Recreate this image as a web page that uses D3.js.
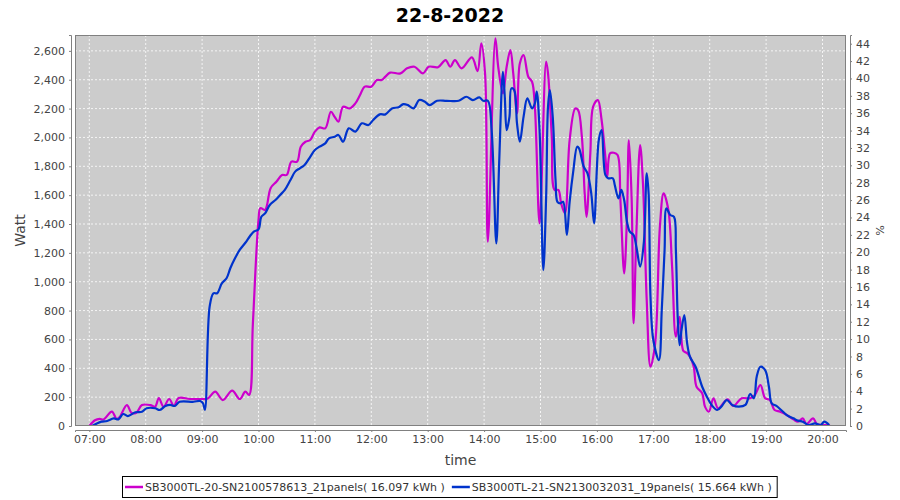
<!DOCTYPE html>
<html>
<head>
<meta charset="utf-8">
<script src="https://cdn.jsdelivr.net/npm/d3@7"></script>
<style>
body { margin: 0; background: #ffffff; }
svg text { font-family: "DejaVu Sans", sans-serif; }
</style>
</head>
<body>
<div id="vis"></div>
<script>
var width = 900
var height = 500

var chartTitle = "22-8-2022"
var seriesNames = ["SB3000TL-20-SN2100578613_21panels( 16.097 kWh )",
                   "SB3000TL-21-SN2130032031_19panels( 15.664 kWh )"]
var seriesColors = ["#cc00cc", "#0033cc"]

var wattTicks = [0,200,400,600,800,1000,1200,1400,1600,1800,2000,2200,2400,2600]
var pctTicks = [0,2,4,6,8,10,12,14,16,18,20,22,24,26,28,30,32,34,36,38,40,42,44]
var hourTicks = ["07:00","08:00","09:00","10:00","11:00","12:00","13:00",
                 "14:00","15:00","16:00","17:00","18:00","19:00","20:00"]

//SB3000TL-20 (magenta)
var magTimes = ["07:00","07:06","07:11","07:15","07:24","07:29","07:32","07:40","07:45","07:50",
  "07:56","08:05","08:10","08:14","08:19","08:25","08:30","08:35","08:47","09:00",
  "09:06","09:14","09:22","09:32","09:40","09:46","09:50","09:54","10:00","10:02",
  "10:07","10:09","10:13","10:19","10:25","10:30","10:35","10:41","10:45","10:50",
  "10:55","11:00","11:05","11:11","11:17","11:21","11:25","11:30","11:37","11:43",
  "11:48","11:53","12:00","12:06","12:11","12:15","12:20","12:31","12:38","12:46",
  "12:55","13:01","13:11","13:19","13:24","13:29","13:36","13:47","13:53","13:57",
  "14:01","14:04","14:12","14:15","14:20","14:24","14:28","14:31","14:35","14:38",
  "14:42","14:47","14:51","14:54","14:59","15:06","15:08","15:12","15:15","15:19",
  "15:22","15:26","15:31","15:37","15:40","15:44","15:47","15:49","15:53","15:56",
  "16:01","16:05","16:09","16:11","16:14","16:18","16:22","16:25","16:29","16:32",
  "16:34","16:37","16:39","16:42","16:46","16:49","16:53","16:57","17:02","17:07",
  "17:11","17:16","17:20","17:24","17:28","17:32","17:36","17:39","17:43","17:46",
  "17:52","17:55","17:59","18:04","18:09","18:19","18:25","18:34","18:43","18:48",
  "18:54","18:59","19:04","19:09","19:15","19:22","19:29","19:34","19:39","19:43",
  "19:50","19:54","19:59","20:04","20:08"]
var magWatts = [0,40,50,45,100,50,60,145,90,92,
  145,145,134,194,134,187,139,194,187,187,
  190,238,180,245,187,238,215,707,1427,1510,
  1497,1530,1650,1693,1740,1740,1832,1832,1936,1970,
  1982,2040,2070,2063,2178,2143,2109,2213,2201,2236,
  2294,2352,2352,2398,2398,2421,2449,2444,2479,2490,
  2444,2490,2487,2536,2490,2536,2479,2555,2460,2652,
  2444,1277,2687,2490,2306,2490,2606,2444,2167,2513,
  2571,2421,2386,2213,1405,2525,2444,2005,1636,1636,
  1543,1474,1982,2201,2190,2005,1612,1450,1890,2213,
  2259,2121,1866,1728,1890,1894,1878,1566,1058,1450,
  1982,1566,712,1337,1947,1682,873,411,573,1380,
  1612,1497,1104,619,757,520,505,480,411,272,
  227,134,99,192,123,185,139,192,192,215,
  284,192,180,111,99,76,46,30,53,14,
  53,14,7,7,5]

//SB3000TL-21 (blue)
var blueTimes = ["07:03","07:08","07:13","07:19","07:26","07:31","07:36","07:41","07:49","07:56",
  "08:01","08:10","08:15","08:21","08:26","08:31","08:36","08:51","08:58","09:01",
  "09:03","09:08","09:12","09:16","09:21","09:26","09:30","09:35","09:40","09:46",
  "09:51","09:55","10:00","10:03","10:07","10:12","10:18","10:23","10:28","10:34",
  "10:39","10:44","10:49","10:55","11:00","11:05","11:11","11:15","11:21","11:25",
  "11:30","11:36","11:43","11:50","11:57","12:02","12:09","12:15","12:22","12:29",
  "12:34","12:39","12:45","12:51","12:57","13:02","13:10","13:20","13:33","13:41",
  "13:48","13:55","13:59","14:04","14:08","14:13","14:16","14:20","14:22","14:24",
  "14:27","14:29","14:32","14:35","14:38","14:42","14:46","14:51","14:54","14:56",
  "14:59","15:03","15:06","15:08","15:10","15:13","15:16","15:18","15:21","15:24",
  "15:28","15:31","15:35","15:39","15:41","15:46","15:50","15:54","15:57","16:02",
  "16:05","16:09","16:12","16:17","16:19","16:23","16:26","16:29","16:32","16:35",
  "16:39","16:42","16:46","16:50","16:53","16:55","16:57","17:00","17:06","17:09",
  "17:12","17:14","17:18","17:22","17:24","17:26","17:28","17:30","17:33","17:36",
  "17:39","17:45","17:52","17:57","18:02","18:08","18:13","18:18","18:24","18:31",
  "18:38","18:43","18:47","18:50","18:54","18:59","19:03","19:06","19:11","19:16",
  "19:22","19:29","19:34","19:39","19:45","19:52","19:58","20:02","20:07"]
var blueWatts = [0,18,30,35,53,46,83,69,95,99,
  123,123,111,139,146,139,168,168,173,157,
  111,827,920,920,989,1024,1093,1162,1220,1270,
  1317,1347,1363,1450,1474,1532,1566,1601,1636,1705,
  1763,1786,1809,1866,1913,1936,1959,1994,2005,2017,
  1970,2063,2040,2098,2086,2121,2160,2160,2201,2209,
  2231,2224,2201,2259,2247,2224,2254,2254,2254,2282,
  2259,2278,2254,2254,2051,1266,1820,2455,2282,2051,
  2144,2340,2328,2098,1970,2144,2271,2201,2236,2317,
  2051,1081,1589,2213,2328,2144,1705,1554,1543,1554,
  1324,1554,1774,1936,1924,1797,1751,1612,1405,1982,
  2051,1740,1717,1717,1670,1578,1636,1566,1416,1347,
  1324,1243,1104,1277,1751,1612,896,596,457,804,
  1220,1508,1462,1450,1220,750,560,665,769,573,
  480,411,272,203,146,111,139,180,146,134,
  146,222,192,342,411,388,272,157,139,111,
  76,53,37,30,7,18,7,30,7]

var parseTime = d3.timeParse("%H:%M:%S")
var parseHM = d3.timeParse("%H:%M")

var plot = {left: 75, right: 846, top: 35, bottom: 426}

function init(){
  var svg = d3.select('#vis').append('svg')
    .attr('width', width)
    .attr('height', height)

  var x = d3.scaleTime()
    .domain([parseTime("06:44:47"), parseTime("20:25:00")])
    .range([plot.left, plot.right])
  var yW = d3.scaleLinear().domain([0, 2710]).range([plot.bottom, plot.top])
  var yP = d3.scaleLinear().domain([0, 45]).range([plot.bottom, plot.top])

  //plot background
  svg.append('rect')
    .attr('x', plot.left).attr('y', plot.top)
    .attr('width', plot.right - plot.left)
    .attr('height', plot.bottom - plot.top)
    .attr('fill', '#cccccc')

  //grid lines
  var grid = svg.append('g')
  grid.selectAll('line.v')
    .data(hourTicks)
    .enter().append('line')
    .attr('class', 'v')
    .attr('x1', d => x(parseHM(d))).attr('x2', d => x(parseHM(d)))
    .attr('y1', plot.top).attr('y2', plot.bottom)
  grid.selectAll('line.h')
    .data(wattTicks)
    .enter().append('line')
    .attr('class', 'h')
    .attr('x1', plot.left).attr('x2', plot.right)
    .attr('y1', d => yW(d)).attr('y2', d => yW(d))
  grid.selectAll('line')
    .attr('stroke', '#ffffff')
    .attr('stroke-width', 0.8)
    .attr('stroke-dasharray', '2,2')

  //series, drawn as smooth splines through the readings
  var line = d3.line()
    .x(d => x(d.t))
    .y(d => yW(d.v))
    .curve(d3.curveCatmullRom.alpha(0.5))

  var series = [
    magTimes.map((t, i) => ({t: parseHM(t), v: magWatts[i]})),
    blueTimes.map((t, i) => ({t: parseHM(t), v: blueWatts[i]}))
  ]

  svg.append('clipPath').attr('id', 'plotclip')
    .append('rect')
    .attr('x', plot.left).attr('y', plot.top)
    .attr('width', plot.right - plot.left)
    .attr('height', plot.bottom - plot.top)

  svg.append('g')
    .attr('clip-path', 'url(#plotclip)')
    .selectAll('path')
    .data(series)
    .enter().append('path')
    .attr('d', line)
    .attr('fill', 'none')
    .attr('stroke', (d, i) => seriesColors[i])
    .attr('stroke-width', 2.2)
    .attr('stroke-linejoin', 'round')

  //plot outline
  svg.append('rect')
    .attr('x', plot.left + 0.5).attr('y', plot.top + 0.5)
    .attr('width', plot.right - plot.left - 1)
    .attr('height', plot.bottom - plot.top - 1)
    .attr('fill', 'none')
    .attr('stroke', '#808080')
    .attr('stroke-width', 1)

  //axes
  var xAxis = d3.axisBottom(x)
    .tickValues(hourTicks.map(parseHM))
    .tickFormat(d3.timeFormat("%H:%M"))
    .tickSize(2).tickPadding(3)
  var gx = svg.append('g')
    .attr('transform', 'translate(0,' + (plot.bottom + 4) + ')')
    .call(xAxis)

  var leftAxis = d3.axisLeft(yW)
    .tickValues(wattTicks)
    .tickFormat(d3.format(","))
    .tickSize(2).tickPadding(4)
  var gl = svg.append('g')
    .attr('transform', 'translate(' + (plot.left - 4) + ',0)')
    .call(leftAxis)

  var rightAxis = d3.axisRight(yP)
    .tickValues(pctTicks)
    .tickSize(2).tickPadding(4)
  var gr = svg.append('g')
    .attr('transform', 'translate(' + (plot.right + 4) + ',0)')
    .call(rightAxis)

  ;[gx, gl, gr].forEach(g => {
    g.select('.domain').attr('stroke', '#808080')
    g.selectAll('.tick line').attr('stroke', '#808080')
    g.selectAll('.tick text')
      .attr('fill', '#444444')
      .style('font-size', '11px')
      .style('font-family', '"DejaVu Sans", sans-serif')
  })

  //titles
  svg.append('text')
    .attr('x', 450).attr('y', 22)
    .attr('text-anchor', 'middle')
    .style('font-size', '19px')
    .style('font-weight', 'bold')
    .attr('fill', '#000000')
    .text(chartTitle)

  svg.append('text')
    .attr('transform', 'translate(25,' + ((plot.top + plot.bottom) / 2) + ') rotate(-90)')
    .attr('text-anchor', 'middle')
    .style('font-size', '14px')
    .attr('fill', '#444444')
    .text("Watt")

  svg.append('text')
    .attr('x', (plot.left + plot.right) / 2).attr('y', 465)
    .attr('text-anchor', 'middle')
    .style('font-size', '14px')
    .attr('fill', '#444444')
    .text("time")

  svg.append('text')
    .attr('transform', 'translate(876,' + ((plot.top + plot.bottom) / 2) + ') rotate(90)')
    .attr('text-anchor', 'middle')
    .style('font-size', '11px')
    .attr('fill', '#444444')
    .text("%")

  //legend
  var legend = svg.append('g')
  var lx = 0
  seriesNames.forEach((name, i) => {
    var g = legend.append('g').attr('transform', 'translate(' + lx + ',0)')
    g.append('line')
      .attr('x1', 2).attr('x2', 20)
      .attr('y1', 0).attr('y2', 0)
      .attr('stroke', seriesColors[i])
      .attr('stroke-width', 2.5)
    var t = g.append('text')
      .attr('x', 22).attr('y', 4)
      .style('font-size', '11px')
      .attr('fill', '#333333')
      .text(name)
    lx += 22 + t.node().getComputedTextLength() + 5
  })
  var boxW = lx + 1
  var bx = Math.round(450 - boxW / 2)
  legend.attr('transform', 'translate(' + bx + ',487)')
  svg.append('rect')
    .attr('x', bx - 0.5).attr('y', 476.5)
    .attr('width', boxW).attr('height', 21)
    .attr('fill', 'none')
    .attr('stroke', '#000000')
    .attr('stroke-width', 1)
}

init()
</script>
</body>
</html>
